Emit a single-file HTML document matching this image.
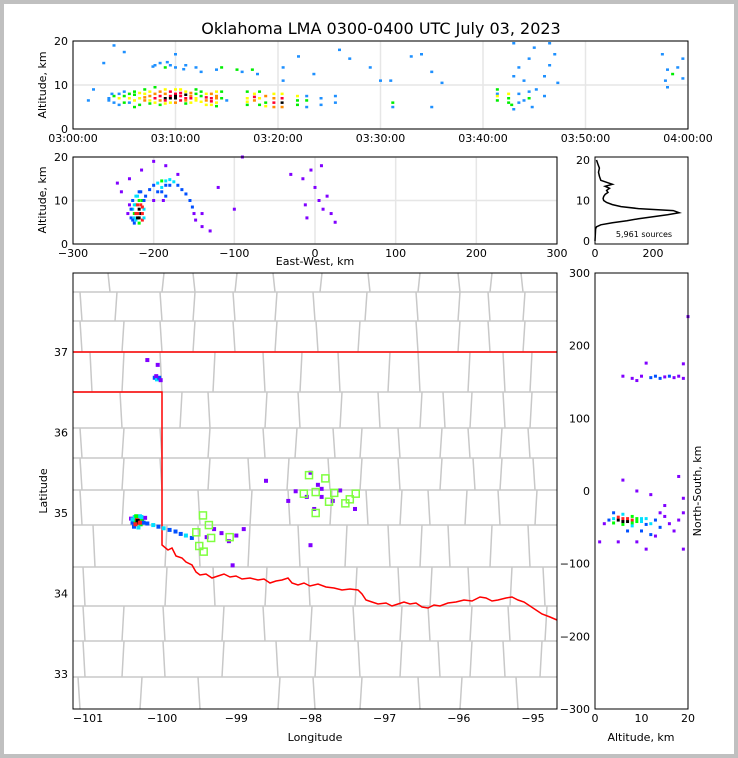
<!DOCTYPE html>
<html><head><meta charset="utf-8">
<style>
html,body{margin:0;padding:0;background:#c0c0c0;}
#wrap{position:absolute;left:4px;top:4px;width:730px;height:750px;background:#fff;}
svg{position:absolute;left:0;top:0;font-family:"DejaVu Sans","Liberation Sans",sans-serif;}
</style></head>
<body>
<div id="wrap"></div>
<svg id="fig" width="738" height="758">
<text x="381" y="34" font-size="16" text-anchor="middle">Oklahoma LMA 0300-0400 UTC July 03, 2023</text>
</svg>
<script>
// ---------- DATA ----------
// top panel: [minutes after 03:00, altitude km, density level]
const timeCells=[[3.5,7,1],[3.5,6.5,1],[4,7.5,2],[4,6,1],[4.5,8,1],[4.5,7,3],[5,7.5,2],[5,6,2],[5.5,8,2],[5.5,7,3],[6,6.5,3],[6,7.8,2],[6.5,7,3],[6.5,5.5,2],[7,8,3],[7,6.5,4],[7.5,7.5,4],[7.5,8.5,3],[8,7,5],[8,6,3],[8.5,7.5,5],[8.5,8.5,4],[9,7,6],[9,6.5,5],[9,8,4],[9.5,7.5,5],[9.5,6,3],[10,7,6],[10,8,5],[10,6,4],[10.5,7.5,5],[10.5,9,3],[11,7,5],[11,6.5,4],[11,8.5,3],[11.5,7.5,4],[11.5,6,3],[12,7,3],[12,8,2],[12.5,7.5,2],[13,6.5,4],[13,8,3],[13.5,7,5],[13.5,5.5,3],[14,7.5,4],[14,6,3],[14.5,7,2],[14.5,8.5,2],[15,6.5,1],
[6,8.5,2],[6.5,8.2,3],[7,7.2,4],[7,9,2],[7.5,6.5,3],[7.5,5.8,2],[8,8,4],[8,9.5,2],[8.5,6.5,4],[8.5,5.5,2],[9,9,3],[9,5.8,3],[9.5,8.5,5],[9.5,7,6],[10,7.5,6],[10,9,3],[10.5,6.5,5],[10.5,8.2,5],[11,7.8,6],[11,5.8,2],[11.5,8.2,4],[11.5,7,5],[12,6.5,3],[12,9,2],[12.5,6.2,3],[12.5,8.5,2],[13,7.2,5],[13,5.5,3],[13.5,8,4],[13.5,6.3,5],[14,7,4],[14,5.2,2],[14,8.5,3],[7.8,14.2,1],[9.2,15.2,1],[10.8,13.6,1],[5.5,6,1],[5,8.5,1],[4.5,5.5,1],[6,5,2],[3.8,8,1],
[8,14.5,1],[8.5,15,1],[9,14,2],[9.5,14.5,1],[10,14,1],[11,14.5,1],[12,14,1],[12.5,13,1],[14,13.5,1],[14.5,14,2],[16,13.5,2],[16.5,13,1],[17.5,13.5,2],[18,12.5,1],[4,19,1],[5,17.5,1],[3,15,1],[10,17,1],[20.5,14,1],[20.5,11,1],[22,16.5,1],[23.5,12.5,1],[26,18,1],[27,16,1],[29,14,1],[30,11,1],[31,11,1],[33,16.5,1],[34,17,1],[35,13,1],[36,10.5,1],[2,9,1],[1.5,6.5,1],
[17,7,3],[17,5.5,2],[17,8.5,2],[17.7,6.5,4],[17.7,8,3],[18.2,7,3],[18.2,5.5,2],[18.8,7.5,4],[18.8,6,2],[19.6,8,3],[19.6,6,5],[19.6,5,4],[20.4,7,5],[20.4,5,4],[21.9,7.5,3],[21.9,5.5,2],[22.8,6.5,2],[22.8,5,1],[24.2,7,1],[24.2,5.5,1],[25.6,7.5,1],[25.6,6,1],
[17,6.2,3],[17.7,7.3,5],[18.2,8.5,2],[18.8,5.2,3],[19.6,7,4],[20.4,6,6],[20.4,8,3],[21.9,6.5,2],[22.8,7.5,1],
[31.2,6,2],[31.2,5,1],[35,5,1],
[41.4,8,1],[41.4,9,2],[41.4,6.5,2],[42.5,7,2],[42.5,8,3],[42.8,5.5,2],[43,4.5,1],[43.5,8,1],[44,6.5,1],[44.5,7,2],[44.5,8.5,1],[44.8,5,1],[45.2,9,1],[46,7.5,1],[43,12,1],[43.5,14,1],[44,11,1],[44.5,16,1],[45,18.5,1],[46,12,1],[46.5,14.5,1],[47,17,1],[47.3,10.5,1],[46.5,19.5,1],[43,19.5,1],
[41.4,7.5,3],[42.5,6,2],[43.5,6,1],
[57.5,17,1],[58,13.5,1],[58.5,12.5,2],[59,14,1],[59.5,16,1],[59.5,11.5,1],[58,9.5,1],[57.8,11,1]];
const timeTicks=["03:00:00","03:10:00","03:20:00","03:30:00","03:40:00","03:50:00","04:00:00"];
// east-west panel: [x km, altitude km, level]
const ewCells=[[-228,6,2],[-226,8,3],[-224,7,4],[-222,9,4],[-222,5.5,3],[-220,7,5],[-218,8,6],[-218,6,6],[-216,7,6],[-216,9,5],[-214,5.5,5],[-214,10,4],[-226,10,2],[-220,11,3],[-216,12,2],[-212,8,3],[-210,11,2],[-224,4.8,2],[-230,9,1],[-232,7,1],
[-222,7,5],[-220,6,6],[-220,9,5],[-218,10,4],[-224,9,3],[-224,6,3],[-214,7,5],[-214,8.5,5],[-212,6,3],[-226,5.5,2],[-228,8,2],[-218,4.8,4],[-222,11,3],[-218,12,2],[-212,10,2],
[-205,12.5,2],[-200,13.5,2],[-195,14,3],[-190,14.5,4],[-185,14.5,3],[-180,14.8,3],[-175,14.3,3],[-170,13.5,2],[-165,12.5,2],[-160,11.5,2],[-155,10,2],[-152,8.5,2],[-150,7,1],[-148,5.5,1],[-190,12,2],[-188,10,1],[-200,10,1],
[-195,12,2],[-185,13.5,2],[-180,13.5,2],[-190,13,3],[-185,11,2],
[-240,12,1],[-230,15,1],[-215,17,1],[-200,19,1],[-185,18,1],[-170,16,1],[-140,7,1],[-130,3,1],[-140,4,1],[-120,13,1],[-100,8,1],[-90,20,1],[-30,16,1],[-15,15,1],[-12,9,1],[-10,6,1],[0,13,1],[5,10,1],[8,18,1],[10,8,1],[15,11,1],[20,7,1],[25,5,1],[-5,17,1],[-245,14,1]];
const ewTicks=[-300,-200,-100,0,100,200,300];
// altitude histogram
const histAlt=[0,3,3.5,4,4.5,5,5.5,6,6.5,7,7.5,8,8.5,9,9.5,10,10.5,11,11.5,12,12.5,13,13.5,14,14.5,15,16,17,18,19,20];
const histCount=[0,2,5,20,60,110,150,200,250,290,270,150,90,60,40,30,28,30,35,45,40,50,35,60,40,20,15,12,15,10,5];
// map: [lon, lat, level]
const mapCells=[[-100.42,34.93,1],[-100.4,34.88,2],[-100.37,34.95,3],[-100.36,34.9,4],[-100.34,34.93,5],[-100.33,34.88,6],[-100.31,34.91,5],[-100.3,34.96,3],[-100.29,34.86,4],[-100.27,34.92,4],[-100.25,34.88,2],[-100.23,34.94,1],[-100.38,34.83,2],[-100.32,34.82,3],
[-100.35,34.96,4],[-100.33,34.9,6],[-100.3,34.88,5],[-100.28,34.95,3],[-100.4,34.92,3],[-100.36,34.86,5],
[-100.2,34.87,2],[-100.12,34.85,3],[-100.05,34.83,2],[-99.98,34.81,3],[-99.9,34.79,2],[-99.82,34.77,2],[-99.75,34.74,2],[-99.68,34.72,3],[-99.6,34.69,2],
[-100.1,36.68,2],[-100.07,36.66,3],[-100.04,36.68,2],[-100.08,36.7,1],[-100.02,36.65,1],[-100.06,36.84,1],
[-98.0,35.5,1],[-97.9,35.35,1],[-97.85,35.3,1],[-98.05,35.2,1],[-97.7,35.15,1],[-97.6,35.28,1],[-98.2,35.27,1],[-98.3,35.15,1],[-97.95,35.05,1],[-97.85,35.2,1],[-99.3,34.8,1],[-99.2,34.75,1],[-99.1,34.65,1],[-99.0,34.72,1],[-98.9,34.8,1],[-99.4,34.7,1],[-98.6,35.4,1],[-97.4,35.05,1],[-98,34.6,1],[-99.05,34.35,1],[-100.2,36.9,1]];
const stationLon=[-98.02,-97.80,-97.93,-98.09,-97.68,-97.75,-97.53,-97.47,-97.39,-97.93,-99.45,-99.37,-99.54,-99.34,-99.09,-99.50,-99.44];
const stationLat=[35.47,35.43,35.26,35.24,35.25,35.14,35.12,35.17,35.24,35.00,34.97,34.85,34.76,34.69,34.70,34.59,34.52];
const lonTicks=[-101,-100,-99,-98,-97,-96,-95];
const latTicks=[33,34,35,36,37];
// north-south panel: [altitude km, y km, level]
const nsCells=[[5,-40,6],[6,-38,5],[7,-42,6],[8,-40,5],[9,-38,4],[4,-44,4],[6,-46,4],[8,-35,4],[10,-42,3],[11,-38,3],[12,-45,3],[13,-40,2],[14,-50,2],[15,-35,1],[3,-40,2],[2,-45,1],[4,-30,2],[7,-55,2],[10,-55,2],[12,-60,2],[14,-30,1],[16,-45,1],[18,-40,1],[19,-30,1],[1,-70,1],[5,-70,1],[9,-70,1],[13,-62,1],[17,-55,1],[19,-10,1],[18,20,1],[9,0,1],[6,15,1],[12,-5,1],[15,-20,1],[11,-80,1],[19,-80,1],
[5,-36,5],[6,-42,6],[7,-38,5],[8,-44,4],[9,-42,4],[10,-38,3],[4,-38,3],[11,-46,2],[6,-32,3],[8,-48,3],
[6,158,1],[8,155,1],[10,158,1],[12,156,2],[13,158,2],[14,155,2],[15,157,1],[16,158,2],[17,156,1],[18,158,1],[19,155,1],[9,152,1],[11,176,1],[19,175,1],[20,240,1]];
const nsTicks=[-300,-200,-100,0,100,200,300];

// ---------- SCALES ----------
const tX=t=>73+t*615/60, tY=a=>129-a*88/20;
const eX=x=>73+(x+300)*484/600, eY=a=>244-a*87/20;
const hX=c=>595+c*58/200, hY=a=>241-a*81/20;
const mX=l=>88+(l+101)*445/6, mY=l=>352-(l-37)*80.5;
const nX=a=>595+a*93/20, nY=y=>491-y*436/600;
const topColors=['#1e90ff','#00ee00','#ffff00','#ff8c00','#ff0030','#000000'];
const densColors=['#8000ff','#0050ff','#00e0ff','#00ff00','#ff2020','#000000'];

const svg=document.getElementById('fig');
const NS='http://www.w3.org/2000/svg';
function mk(tag,attrs,parent){const e=document.createElementNS(NS,tag);for(const k in attrs)e.setAttribute(k,attrs[k]);(parent||svg).appendChild(e);return e;}
function txt(x,y,s,size,anchor,parent){const e=mk('text',{x:x,y:y,'font-size':size,'text-anchor':anchor||'middle'},parent);e.textContent=s;return e;}

// ---------- TOP PANEL ----------
const gTop=mk('g',{});


for(let i=0;i<timeTicks.length;i++){
  const x=tX(i*10);
  const l=mk('line',{x1:x,x2:x,y1:41,y2:129,stroke:'#e6e6e6','stroke-width':1.5},gTop);
  
  
  const t=txt(x,142,timeTicks[i],11,'middle',gTop);
  
  
}
[0,10,20].forEach(a=>{
  const l=mk('line',{x1:73,x2:688,y1:tY(a),y2:tY(a),stroke:'#e6e6e6','stroke-width':1.5},gTop);
  
  
  const t=txt(68,tY(a)+4,String(a),11,'end',gTop);
  
  
});
timeCells.forEach(c=>{
  const r=mk('rect',{x:tX(c[0])-1.5,y:tY(c[1])-1.2,width:3,height:2.5,fill:topColors[c[2]-1]},gTop);
  
  
});
const f1=mk('rect',{x:73,y:41,width:615,height:88,fill:'none',stroke:'#000','stroke-width':1},gTop);


const yl1=txt(0,0,'Altitude, km',11,'middle',gTop);
yl1.setAttribute('transform','translate(46,85) rotate(-90)');



// ---------- EW PANEL ----------
const gEW=mk('g',{});


ewTicks.forEach(v=>{
  const x=eX(v);
  const l=mk('line',{x1:x,x2:x,y1:157,y2:244,stroke:'#e6e6e6','stroke-width':1.5},gEW);
  
  
  const t=txt(x,257,(v<0?'\u2212':'')+Math.abs(v),11,'middle',gEW);
  
  
});
[0,10,20].forEach(a=>{
  const l=mk('line',{x1:73,x2:557,y1:eY(a),y2:eY(a),stroke:'#e6e6e6','stroke-width':1.5},gEW);
  
  
  const t=txt(68,eY(a)+4,String(a),11,'end',gEW);
  
  
});
ewCells.forEach(c=>{
  const r=mk('rect',{x:eX(c[0])-1.5,y:eY(c[1])-1.5,width:3,height:3,fill:densColors[c[2]-1]},gEW);
  
  
});
const f2=mk('rect',{x:73,y:157,width:484,height:87,fill:'none',stroke:'#000'},gEW);


const xl2=txt(315,265,'East-West, km',11,'middle',gEW);


const yl2=txt(0,0,'Altitude, km',11,'middle',gEW);
yl2.setAttribute('transform','translate(46,200) rotate(-90)');



// ---------- HISTOGRAM ----------
const gH=mk('g',{});


const hp=histAlt.map((a,i)=>hX(histCount[i]).toFixed(1)+','+hY(a).toFixed(1)).join(' ');
const hl=mk('polyline',{points:hp,fill:'none',stroke:'#000','stroke-width':1.5},gH);


const f3=mk('rect',{x:595,y:157,width:93,height:87,fill:'none',stroke:'#000'},gH);


[0,10,20].forEach(a=>{
  const t=txt(590,hY(a)+4,String(a),11,'end',gH);
  
  
});
[0,200].forEach(v=>{
  const t=txt(hX(v),257,String(v),11,'middle',gH);
  
  
});
const src=txt(644,237,'5,961 sources',8,'middle',gH);



// ---------- MAP ----------
const gM=mk('g',{});


const clip=mk('clipPath',{id:'mclip'},gM);
mk('rect',{x:73,y:273,width:484,height:436},clip);
const gMc=mk('g',{'clip-path':'url(#mclip)'},gM);
const rows=[273,292,321,352,392,428,458,490,525,567,606,641,677,709];
const cols=[[110,162,195,235,275,320,370,418,460,490,523],[82,115,162,193,235,275,315,365,418,458,490,523],[82,122,162,193,235,275,318,358,418,458,490,523],[92,122,162,213,265,300,340,388,420,468,505,530],[122,180,210,265,300,340,380,420,445,470,505,530],[82,122,162,208,265,295,335,360,400,440,470,500,530],[82,122,162,208,250,287,330,360,400,440,475,500,535],[82,122,200,250,290,330,368,400,430,465,500,535],[95,165,200,248,300,345,390,420,450,490,530],[85,165,215,265,310,355,400,430,470,510,545],[85,122,165,222,265,310,355,400,430,470,510,545],[85,122,165,222,278,315,360,400,440,470,505,540],[80,140,200,278,315,360,420,460,518]];
let cd='';
for(let i=1;i<rows.length-1;i++){cd+='M73 '+rows[i]+'H557';}
for(let i=0;i<cols.length;i++){cols[i].forEach((x,j)=>{cd+='M'+(x+(j%2?2:-2))+' '+rows[i]+'L'+x+' '+rows[i+1];});}
const cl=mk('path',{d:cd,fill:'none',stroke:'#c8c8c8','stroke-width':1.5},gMc);


const sb=mk('path',{d:'M73 352H557M73 392H162V545L168 550L172 548L176 556L182 558L186 562L192 565L196 572L200 575L206 574L212 578L218 576L224 574L230 577L236 576L242 579L250 578L258 580L264 579L270 583L276 581L282 580L288 578L292 583L298 585L304 583L310 586L318 584L326 587L334 588L342 590L350 589L358 590L362 594L366 600L372 602L378 604L386 603L392 606L398 604L404 602L410 604L416 603L422 607L428 608L434 605L440 606L448 603L456 602L464 600L472 601L480 597L486 598L492 601L498 600L506 598L512 597L518 600L524 602L530 606L536 610L542 614L550 617L557 620',fill:'none',stroke:'#ff0000','stroke-width':1.5},gMc);


mapCells.forEach(c=>{
  const r=mk('rect',{x:mX(c[0])-2,y:mY(c[1])-2,width:4,height:4,fill:densColors[c[2]-1]},gMc);
  
  
});
stationLon.forEach((lon,i)=>{
  const r=mk('rect',{x:mX(lon)-3.5,y:mY(stationLat[i])-3.5,width:7,height:7,fill:'none',stroke:'#7fff3f','stroke-width':1.5},gMc);
  
  
});
const f4=mk('rect',{x:73,y:273,width:484,height:436,fill:'none',stroke:'#000'},gM);


lonTicks.forEach(v=>{
  const t=txt(mX(v),722,'\u2212'+Math.abs(v),11,'middle',gM);
  
  
});
latTicks.forEach(v=>{
  const t=txt(68,mY(v)+4,String(v),11,'end',gM);
  
  
});
const xl4=txt(315,741,'Longitude',11,'middle',gM);


const yl4=txt(0,0,'Latitude',11,'middle',gM);
yl4.setAttribute('transform','translate(47,491) rotate(-90)');



// ---------- NS PANEL ----------
const gN=mk('g',{});


nsCells.forEach(c=>{
  const r=mk('rect',{x:nX(c[0])-1.5,y:nY(c[1])-1.5,width:3,height:3,fill:densColors[c[2]-1]},gN);
  
  
});
const f5=mk('rect',{x:595,y:273,width:93,height:436,fill:'none',stroke:'#000'},gN);


nsTicks.forEach(v=>{
  const t=txt(590,nY(v)+4,(v<0?'\u2212':'')+Math.abs(v),11,'end',gN);
  
  
});
[0,10,20].forEach(a=>{
  const t=txt(nX(a),722,String(a),11,'middle',gN);
  
  
});
const xl5=txt(641,741,'Altitude, km',11,'middle',gN);


const yl5=txt(0,0,'North-South, km',11,'middle',gN);
yl5.setAttribute('transform','translate(701,491) rotate(-90)');


</script>
</body></html>
